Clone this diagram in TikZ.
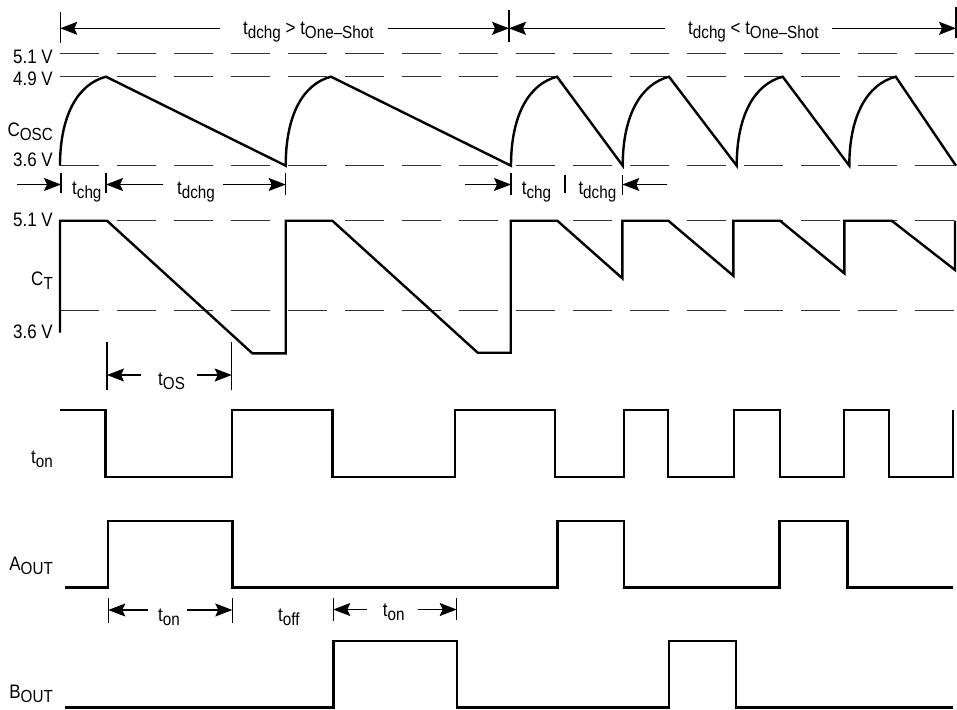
\documentclass[tikz,border=0pt]{standalone}
\usepackage{fontspec}
\setmainfont{Liberation Sans}[FakeStretch=0.87]
\usetikzlibrary{arrows.meta}
\newcommand{\sbx}[1]{\raisebox{-4pt}{\fontsize{17.5}{17}\selectfont #1}}
\begin{document}
\begin{tikzpicture}[x=1pt,y=-1pt,
  wave/.style={line width=2.4pt,line join=miter},
  refl/.style={line width=1.2pt,black!80,dash pattern=on 39pt off 18pt},
  dimarrow/.style={line width=1.1pt,-{Stealth[length=17pt,width=13pt,inset=3pt]}},
  tickl/.style={line width=1.2pt},
  txt/.style={inner sep=0pt,font=\fontsize{19.5}{20}\selectfont},
  lbl/.style={txt,anchor=base east},
  dtxt/.style={txt,anchor=base west}]
\useasboundingbox (0,0) rectangle (957,709);
\fill[white] (0,0) rectangle (957,709);

% reference levels
\draw[refl] (60,53.3) -- (956,53.3);
\draw[refl] (60,76.7) -- (956,76.7);
\draw[refl] (60,165.7) -- (956,165.7);
\draw[refl] (60,220.7) -- (956,220.7);
\draw[refl] (60,310.7) -- (956,310.7);

% row labels
\node[lbl] (l51a) at (53,63.5) {5.1 V};
\node[lbl] (l49) at (53,85) {4.9 V};
\node[lbl] (lcosc) at (53,136.5) {C\sbx{OSC}};
\node[lbl] (l36a) at (53,166.5) {3.6 V};
\node[lbl] (l51b) at (53,226.7) {5.1 V};
\node[lbl] (lct) at (53,285) {C\sbx{T}};
\node[lbl] (l36b) at (53,338) {3.6 V};
\node[lbl] (lton) at (53,463) {t\sbx{on}};
\node[lbl] (laout) at (53,570.5) {A\sbx{OUT}};
\node[lbl] (lbout) at (53,698) {B\sbx{OUT}};

% C_OSC waveform
\draw[wave] (60,165.7) .. controls (60,115) and (78,84) .. (106,76.7)
  -- (285.7,165.7) .. controls (285.7,115) and (303,84) .. (331,76.7)
  -- (511,165.7) .. controls (511,115) and (529,84) .. (557,76.7)
  -- (622.7,165.7) .. controls (622.7,115) and (641,84) .. (669,76.7)
  -- (736.7,165.7) .. controls (736.7,115) and (754.7,84) .. (782.7,76.7)
  -- (849.3,165.7) .. controls (849.3,115) and (867.7,84) .. (895.7,76.7)
  -- (956,165.7);

% C_T waveform
\draw[wave] (60,332.7) -- (60,220.7) -- (107,220.7) -- (252.3,353.3) -- (285.7,353.3)
  -- (285.7,220.7) -- (332.3,220.7) -- (477.7,352.7) -- (510.7,352.7)
  -- (510.7,220.7) -- (557.3,220.7) -- (622.3,278.3)
  -- (622.3,220.7) -- (668.3,220.7) -- (733.3,275.7)
  -- (733.3,220.7) -- (780,220.7) -- (844.3,273.3)
  -- (844.3,220.7) -- (891.7,220.7) -- (955,270) -- (955,220.7);

% t_on waveform
\draw[wave] (60,410) -- (105.3,410) -- (105.3,476.7) -- (231.7,476.7) -- (231.7,410)
  -- (332.3,410) -- (332.3,476.7) -- (455,476.7) -- (455,410)
  -- (555,410) -- (555,476.7) -- (624,476.7) -- (624,410)
  -- (667.7,410) -- (667.7,476.7) -- (734,476.7) -- (734,410)
  -- (780,410) -- (780,476.7) -- (844,476.7) -- (844,410)
  -- (889,410) -- (889,476.7) -- (952.7,476.7) -- (952.7,410);

% A_OUT waveform
\draw[wave] (65,587.3) -- (107.7,587.3) -- (107.7,520.7) -- (232.3,520.7) -- (232.3,587.3)
  -- (557.3,587.3) -- (557.3,520.7) -- (624,520.7) -- (624,587.3)
  -- (779.3,587.3) -- (779.3,520.7) -- (847.3,520.7) -- (847.3,587.3) -- (953.3,587.3);

% B_OUT waveform
\draw[wave] (65,707.5) -- (333.3,707.5) -- (333.3,641) -- (456.7,641) -- (456.7,707.5)
  -- (669,707.5) -- (669,641) -- (735.7,641) -- (735.7,707.5) -- (953.3,707.5);

% top dimension row
\draw[tickl] (60.3,12) -- (60.3,43);
\draw[tickl] (509,10) -- (509,42);
\draw[tickl] (956,7) -- (956,38);
\draw[dimarrow] (220,28.3) -- (60.3,28.3);
\draw[dimarrow] (388,28.3) -- (509,28.3);
\draw[dimarrow] (665,28.3) -- (509,28.3);
\draw[dimarrow] (832,28.3) -- (956,28.3);
\node[dtxt] (tgt) at (243,35) {t\sbx{dchg} > t\sbx{One--Shot}};
\node[dtxt] (tlt) at (688,35) {t\sbx{dchg} < t\sbx{One--Shot}};

% C_OSC timing row
\draw[tickl] (61,173) -- (61,193);
\draw[tickl] (106,173) -- (106,193);
\draw[tickl] (285.7,173) -- (285.7,195);
\draw[tickl] (511,173) -- (511,195);
\draw[tickl] (565,175) -- (565,193);
\draw[tickl] (622.3,175) -- (622.3,195);
\draw[dimarrow] (17,184.5) -- (61,184.5);
\draw[dimarrow] (163,184.5) -- (106,184.5);
\draw[dimarrow] (223,184.5) -- (285.7,184.5);
\draw[dimarrow] (465,184.5) -- (511,184.5);
\draw[dimarrow] (667,184.5) -- (622.3,184.5);
\node[dtxt] (tchg1) at (72,194) {t\sbx{chg}};
\node[dtxt] (tdchg1) at (177,194) {t\sbx{dchg}};
\node[dtxt] (tchg2) at (521.7,194) {t\sbx{chg}};
\node[dtxt] (tdchg2) at (578.3,194) {t\sbx{dchg}};

% t_OS row
\draw[tickl] (107,342) -- (107,390);
\draw[tickl] (231.7,342) -- (231.7,390);
\draw[dimarrow] (141,375) -- (107,375);
\draw[dimarrow] (197,375) -- (231.7,375);
\node[dtxt] (tos) at (158,385) {t\sbx{OS}};

% t_on / t_off row
\draw[tickl] (108.3,598) -- (108.3,623);
\draw[tickl] (232.3,598) -- (232.3,623);
\draw[tickl] (333.3,598) -- (333.3,621);
\draw[tickl] (456.7,598) -- (456.7,620);
\draw[dimarrow] (148,610) -- (108.3,610);
\draw[dimarrow] (187,610) -- (232.3,610);
\draw[dimarrow] (367,609.5) -- (333.3,609.5);
\draw[dimarrow] (418,609.5) -- (456.7,609.5);
\node[dtxt] (ton1) at (158,621) {t\sbx{on}};
\node[dtxt] (toff) at (278,621) {t\sbx{off}};
\node[dtxt] (ton2) at (382.7,616) {t\sbx{on}};
\end{tikzpicture}
\end{document}
